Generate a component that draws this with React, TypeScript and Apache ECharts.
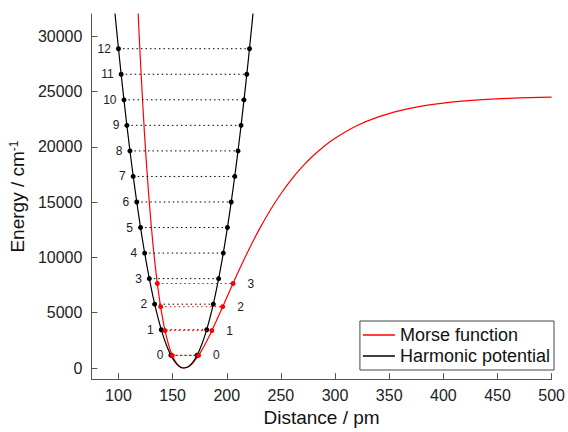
import React, { useEffect, useRef } from "react";
import * as echarts from "echarts";

// Axis ranges and ticks
const xRange = [75, 500];
const yRange = [-1000, 32000];
const xTicks = [100, 150, 200, 250, 300, 350, 400, 450, 500];
const yTicks = [0, 5000, 10000, 15000, 20000, 25000, 30000];

// Harmonic potential curve (pm, cm^-1)
const harmonicX = [96, 100, 104, 108, 112, 116, 120, 124, 128, 132, 136, 140, 144, 148, 152, 156, 160, 164, 168, 172, 176, 180, 184, 188, 192, 196, 200, 204, 208, 212, 216, 220, 224, 226];
const harmonicY = [32821, 28877, 25185, 21745, 18558, 15623, 12941, 10511, 8333, 6408, 4736, 3316, 2147, 1233, 570, 160, 2, 97, 444, 1044, 1896, 3000, 4357, 5966, 7828, 9942, 12309, 14928, 17800, 20925, 24301, 27931, 31812, 33848];

// Morse function curve (pm, cm^-1)
const morseX = [116, 118, 120, 124, 128, 132, 136, 140, 144, 148, 152, 156, 160, 164, 168, 172, 176, 180, 185, 190, 195, 200, 210, 220, 230, 240, 250, 260, 270, 280, 290, 300, 320, 340, 360, 380, 400, 420, 440, 460, 480, 500];
const morseY = [37100, 32480, 28320, 21230, 15550, 11040, 7550, 4894, 2942, 1564, 672, 175, 2, 92, 392, 861, 1459, 2155, 3129, 4175, 5265, 6373, 8558, 10628, 12534, 14243, 15756, 17078, 18224, 19206, 20050, 20767, 21894, 22696, 23262, 23665, 23944, 24141, 24280, 24376, 24444, 24491];

// Harmonic energy levels
const harmonicLevelE = [1154, 3463, 5772, 8081, 10390, 12699, 15008, 17317, 19626, 21935, 24244, 26553, 28862];
const harmonicLeftX = [148.4, 139.5, 133.4, 128.5, 124.2, 120.4, 116.9, 113.6, 110.6, 107.8, 105.1, 102.5, 100.0];
const harmonicRightX = [172.6, 181.5, 187.6, 192.5, 196.8, 200.6, 204.1, 207.4, 210.4, 213.2, 215.9, 218.5, 221.0];

// Morse energy levels
const morseLevelE = [1145, 3382, 5547, 7640];
const morseLeftX = [149.7, 143.0, 139.0, 135.9];
const morseRightX = [174.0, 186.2, 196.2, 205.8];

const FONT = "'Liberation Sans', Arial, Helvetica, sans-serif";
const RED = "#ff0000";
const BLACK = "#000000";

export default function App() {
  const ref = useRef<HTMLDivElement>(null);

  useEffect(() => {
    if (!ref.current) return;
    const chart = echarts.init(ref.current, null, { renderer: "svg", width: 568, height: 432 });

    const levelSeries: any[] = [];
    harmonicLevelE.forEach((e, i) => {
      levelSeries.push({
        name: "harm" + i,
        type: "line",
        z: 5,
        symbol: "circle",
        symbolSize: 5,
        itemStyle: { color: BLACK },
        lineStyle: { color: BLACK, width: 1, type: [1.5, 3] },
        data: [
          {
            value: [harmonicLeftX[i], e],
            label: {
              show: true,
              position: "left",
              distance: 5,
              formatter: String(i),
              fontSize: 12,
              fontFamily: FONT,
              color: "#222",
            },
          },
          { value: [harmonicRightX[i], e] },
        ],
      });
    });
    morseLevelE.forEach((e, i) => {
      levelSeries.push({
        name: "morse" + i,
        type: "line",
        z: 6,
        symbol: "circle",
        symbolSize: 5,
        itemStyle: { color: RED },
        lineStyle: { color: RED, width: 1, type: [1.5, 3] },
        data: [
          { value: [morseLeftX[i], e] },
          {
            value: [morseRightX[i], e],
            label: {
              show: true,
              position: "right",
              distance: 12,
              formatter: String(i),
              fontSize: 12,
              fontFamily: FONT,
              color: "#222",
            },
          },
        ],
      });
    });

    const axisCommon = {
      axisLine: { show: true, onZero: false, lineStyle: { color: "#555", width: 1 } },
      axisTick: { show: true, inside: true, length: 6, lineStyle: { color: "#555" } },
      splitLine: { show: false },
    };

    chart.setOption({
      animation: false,
      backgroundColor: "#ffffff",
      textStyle: { fontFamily: FONT },
      grid: { left: 91, width: 463, top: 14, height: 373, containLabel: false },
      legend: {
        data: [
          { name: "Morse function", icon: "rect", itemStyle: { color: RED } },
          { name: "Harmonic potential", icon: "rect", itemStyle: { color: BLACK } },
        ],
        orient: "vertical",
        right: 14,
        top: 321,
        backgroundColor: "#ffffff",
        borderColor: "#444",
        borderWidth: 1,
        borderRadius: 0,
        padding: [4, 4, 4, 3],
        itemGap: 1,
        itemWidth: 32,
        itemHeight: 1.3,
        textStyle: { fontSize: 18, fontFamily: FONT, color: "#111", lineHeight: 20 },
      },
      xAxis: {
        type: "value",
        min: xRange[0],
        max: xRange[1],
        name: "Distance / pm",
        nameLocation: "middle",
        nameGap: 27,
        nameTextStyle: { fontSize: 19, fontFamily: FONT, color: "#111" },
        ...axisCommon,
        axisTick: { ...axisCommon.axisTick, customValues: xTicks },
        axisLabel: {
          customValues: xTicks,
          fontSize: 16,
          fontFamily: FONT,
          color: "#222",
          margin: 8,
          formatter: (v: number) => String(v),
        },
      },
      yAxis: {
        type: "value",
        min: yRange[0],
        max: yRange[1],
        name: "Energy / cm{sup|-1}",
        nameLocation: "middle",
        nameRotate: 90,
        nameGap: 61,
        nameTextStyle: {
          fontSize: 19,
          fontFamily: FONT,
          color: "#111",
          rich: { sup: { fontSize: 12, fontFamily: FONT, color: "#111", verticalAlign: "top", lineHeight: 19 } },
        },
        ...axisCommon,
        axisTick: { ...axisCommon.axisTick, customValues: yTicks },
        axisLabel: {
          customValues: yTicks,
          fontSize: 16,
          fontFamily: FONT,
          color: "#222",
          margin: 9,
          formatter: (v: number) => String(v),
        },
      },
      series: [
        {
          name: "Morse function",
          type: "line",
          z: 3,
          symbol: "none",
          smooth: 0.3,
          clip: true,
          lineStyle: { color: RED, width: 1.2 },
          itemStyle: { color: RED },
          data: morseX.map((x, i) => [x, morseY[i]]),
        },
        {
          name: "Harmonic potential",
          type: "line",
          z: 4,
          symbol: "none",
          smooth: 0.3,
          clip: true,
          lineStyle: { color: BLACK, width: 1.2 },
          itemStyle: { color: BLACK },
          data: harmonicX.map((x, i) => [x, harmonicY[i]]),
        },
        ...levelSeries,
      ],
    });

    return () => chart.dispose();
  }, []);

  return (
    <div
      ref={ref}
      style={{ position: "fixed", left: 0, top: 0, width: 568, height: 432, background: "#fff" }}
    />
  );
}
